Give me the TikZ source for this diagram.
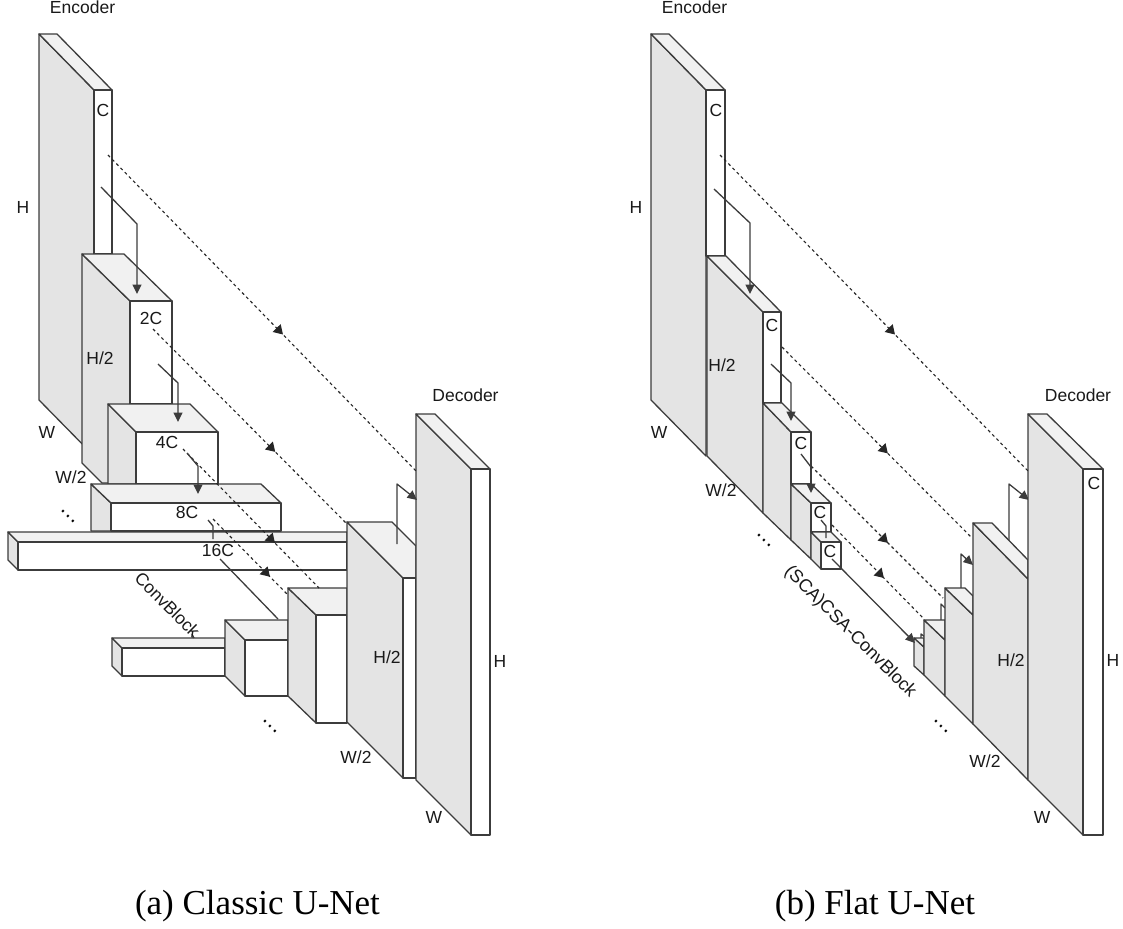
\documentclass[tikz,border=0pt]{standalone}
\usepackage{fontspec}
\setmainfont{Liberation Sans}
\newfontfamily\capfont{Liberation Serif}
\usetikzlibrary{arrows.meta,decorations.markings}
\definecolor{edgec}{HTML}{3C3C3C}
\definecolor{sidec}{HTML}{E4E4E4}
\definecolor{topc}{HTML}{F1F1F1}
\tikzset{
  sideface/.style={draw=edgec,fill=sidec,line width=1.3pt,line join=round},
  topface/.style={draw=edgec,fill=topc,line width=1.3pt,line join=round},
  frontface/.style={draw=edgec,fill=white,line width=1.3pt,line join=round},
  lbl/.style={font=\fontsize{17.5}{20}\selectfont,inner sep=0pt,text=black!90},
  captxt/.style={font=\capfont\fontsize{35}{40}\selectfont,inner sep=0pt,text=black},
  ellip/.style={font=\fontsize{22}{24}\selectfont,inner sep=0pt,rotate=-45},
  conn/.style={draw=edgec,line width=1.3pt,line join=round},
  connarrow/.style={conn,-{Triangle[length=9.5pt,width=9pt]}},
  skipline/.style={draw=black!85,line width=1.1pt,dash pattern=on 3pt off 3pt},
  midtip/.style={postaction={decorate,decoration={markings,mark=at position #1 with {\arrow{Triangle[length=9pt,width=11pt]}}}}}
}
\begin{document}
\begin{tikzpicture}[x=1pt,y=-1pt]
\useasboundingbox (0,0) rectangle (1123,928);
%% ---------- (a) Classic U-Net
% encoder
\draw[sideface] (39,34)--(94,90)--(94,456)--(39,400)--cycle;
\draw[topface] (39,34)--(57,34)--(112,90)--(94,90)--cycle;
\draw[frontface] (94,90) rectangle (112,254);
\draw[sideface] (82,254)--(130,301)--(130,483)--(102,483)--(82,463)--cycle;
\draw[topface] (82,254)--(124,254)--(172,301)--(130,301)--cycle;
\draw[frontface] (130,301) rectangle (172,404);
\draw[sideface] (108,404)--(136,432)--(136,484)--(108,484)--cycle;
\draw[topface] (108,404)--(190,404)--(218,432)--(136,432)--cycle;
\draw[frontface] (136,432) rectangle (218,484);
\draw[sideface] (91,484)--(111,503)--(111,531)--(91,531)--cycle;
\draw[topface] (91,484)--(261,484)--(281,503)--(111,503)--cycle;
\draw[frontface] (111,503) rectangle (281,531);
% bottleneck
\draw[sideface] (8,532)--(18,542)--(18,570)--(8,560)--cycle;
\draw[topface] (8,532)--(347,532)--(347,542)--(18,542)--cycle;
\draw[frontface] (18,542) rectangle (347,570);
% decoder
\draw[sideface] (112,638)--(122,648)--(122,676)--(112,666)--cycle;
\draw[topface] (112,638)--(225,638)--(225,648)--(122,648)--cycle;
\draw[frontface] (122,648) rectangle (225,676);
\draw[sideface] (225,620)--(245,640)--(245,696)--(225,676)--cycle;
\draw[topface] (225,620)--(288,620)--(288,640)--(245,640)--cycle;
\draw[frontface] (245,640) rectangle (288,696);
\draw[sideface] (288,588)--(316,615)--(316,723)--(288,696)--cycle;
\draw[topface] (288,588)--(347,588)--(347,615)--(316,615)--cycle;
\draw[frontface] (316,615) rectangle (347,723);
\draw[sideface] (347,522)--(403,578)--(403,778)--(347,722)--cycle;
\draw[topface] (347,522)--(392,522)--(416,546)--(416,578)--(403,578)--cycle;
\draw[frontface] (403,578) rectangle (416,778);
\draw[sideface] (416,414)--(471,469)--(471,835)--(416,780)--cycle;
\draw[topface] (416,414)--(435,414)--(490,469)--(471,469)--cycle;
\draw[frontface] (471,469) rectangle (490,835);
% connectors (a)
\coordinate (as1) at (108,155); \coordinate (ae1) at (416,471);
\coordinate (as2) at (153,329); \coordinate (ae2) at (347,524);
\coordinate (as3) at (183,449); \coordinate (ae3) at (319,588);
\coordinate (as4) at (213,519); \coordinate (ae4) at (287,594);
\draw[skipline,midtip=0.568] (as1)--(ae1);
\draw[skipline,midtip=0.63] (as2)--(ae2);
\draw[skipline,midtip=0.676] (as3)--(ae3);
\draw[skipline,midtip=0.77] (as4)--(ae4);
\coordinate (ad1) at (101,187); \coordinate (ad1b) at (137,224); \coordinate (ad1e) at (137,294);
\coordinate (ad2) at (158,364); \coordinate (ad2b) at (178,383); \coordinate (ad2e) at (178,422);
\coordinate (ad3) at (187,453); \coordinate (ad3b) at (198,466); \coordinate (ad3e) at (198,494);
\coordinate (ad4) at (208,520); \coordinate (ad4b) at (213,526); \coordinate (ad4e) at (213,539);
\coordinate (ad5) at (220,559); \coordinate (ad5e) at (278,619);
\coordinate (ad6) at (192,634); \coordinate (ad6e) at (194,638);
\coordinate (au1) at (397,544); \coordinate (au1b) at (397,484); \coordinate (au1e) at (417,500);
\draw[connarrow] (ad1)--(ad1b)--(ad1e);
\draw[connarrow] (ad2)--(ad2b)--(ad2e);
\draw[connarrow] (ad3)--(ad3b)--(ad3e);
\draw[conn] (ad4)--(ad4b)--(ad4e);
\draw[conn] (ad5)--(ad5e);
\draw[conn] (ad6)--(ad6e);
\draw[connarrow] (au1)--(au1b)--(au1e);
% labels (a)
\node[lbl] (aenc) at (82.5,7.5) {Encoder};
\node[lbl] (ac1) at (103,110) {C};
\node[lbl] (ah) at (23,207) {H};
\node[lbl] (aw) at (47,432) {W};
\node[lbl] (ah2) at (100,358) {H/2};
\node[lbl] (aw2) at (71,477) {W/2};
\node[lbl] (a2c) at (151,318) {2C};
\node[lbl] (a4c) at (167,442) {4C};
\node[lbl] (a8c) at (187,512) {8C};
\node[lbl] (a16c) at (218,550) {16C};
\node[lbl,rotate=-45] (acb) at (167.5,604.5) {ConvBlock};
\node[lbl] (adec) at (465.5,395) {Decoder};
\node[lbl] (adh2) at (387,657) {H/2};
\node[lbl] (adh) at (500,661) {H};
\node[lbl] (adw2) at (356,757) {W/2};
\node[lbl] (adw) at (434,817) {W};
\node[ellip] (adots1) at (68,516) {…};
\node[ellip] (adots2) at (270,726) {…};
\node[captxt] (acap) at (257.5,906) {(a) Classic U-Net};
%% ---------- (b) Flat U-Net
\draw[sideface] (651,34)--(706,90)--(706,456)--(651,400)--cycle;
\draw[topface] (651,34)--(669,34)--(725,90)--(706,90)--cycle;
\draw[frontface] (706,90) rectangle (725,256);
\draw[sideface] (707,256)--(763,312)--(763,513)--(707,456)--cycle;
\draw[topface] (707,256)--(726,256)--(781,312)--(763,312)--cycle;
\draw[frontface] (763,312) rectangle (781,403);
\draw[sideface] (763,403)--(791,432)--(791,540)--(763,513)--cycle;
\draw[topface] (763,403)--(782,403)--(811,432)--(791,432)--cycle;
\draw[frontface] (791,432) rectangle (811,484);
\draw[sideface] (791,484)--(811,503)--(811,559)--(791,540)--cycle;
\draw[topface] (791,484)--(811,484)--(831,503)--(811,503)--cycle;
\draw[frontface] (811,503) rectangle (831,532);
\draw[sideface] (811,532)--(821,542)--(821,569)--(811,559)--cycle;
\draw[topface] (811,532)--(831,532)--(841,542)--(821,542)--cycle;
\draw[frontface] (821,542) rectangle (841,569);
% decoder stubs
\coordinate (bu0) at (921,638); \coordinate (bu0b) at (921,634); \coordinate (bu0e) at (925,637);
\coordinate (bu1) at (941,620); \coordinate (bu1b) at (941,604); \coordinate (bu1e) at (945,608);
\coordinate (bu2) at (961,588); \coordinate (bu2b) at (961,554); \coordinate (bu2e) at (973,565);
\coordinate (bu3) at (1009,542); \coordinate (bu3b) at (1009,484); \coordinate (bu3e) at (1029,500);
\draw[conn] (bu0)--(bu0b)--(bu0e);
\draw[conn] (bu1)--(bu1b)--(bu1e);
\draw[connarrow] (bu2)--(bu2b)--(bu2e);
\draw[connarrow] (bu3)--(bu3b)--(bu3e);
\draw[sideface] (914,638)--(924,647)--(924,675)--(914,666)--cycle;
\draw[topface] (914,638)--(924,638)--(924,647)--cycle;
\draw[sideface] (924,620)--(945,640)--(945,696)--(924,675)--cycle;
\draw[topface] (924,620)--(945,620)--(945,640)--cycle;
\draw[sideface] (945,588)--(973,615)--(973,724)--(945,696)--cycle;
\draw[topface] (945,588)--(965,588)--(973,596)--(973,615)--cycle;
\draw[sideface] (973,523)--(1028,579)--(1028,780)--(973,724)--cycle;
\draw[topface] (973,523)--(992,523)--(1028,560)--(1028,579)--cycle;
\draw[sideface] (1028,414)--(1083,469)--(1083,835)--(1028,780)--cycle;
\draw[topface] (1028,414)--(1047,414)--(1103,469)--(1083,469)--cycle;
\draw[frontface] (1083,469) rectangle (1103,835);
% connectors (b)
\coordinate (bs1) at (720,155); \coordinate (be1) at (1028,471);
\coordinate (bs2) at (782,347); \coordinate (be2) at (971,537);
\coordinate (bs3) at (811,466); \coordinate (be3) at (943,598);
\coordinate (bs4) at (832,525); \coordinate (be4) at (923,618);
\draw[skipline,midtip=0.568] (bs1)--(be1);
\draw[skipline,midtip=0.56] (bs2)--(be2);
\draw[skipline,midtip=0.583] (bs3)--(be3);
\draw[skipline,midtip=0.57] (bs4)--(be4);
\coordinate (bd1) at (714,189); \coordinate (bd1b) at (750,223); \coordinate (bd1e) at (750,294);
\coordinate (bd2) at (771,364); \coordinate (bd2b) at (791,383); \coordinate (bd2e) at (791,421);
\coordinate (bd3) at (801,454); \coordinate (bd3b) at (811,467); \coordinate (bd3e) at (811,493);
\coordinate (bd4) at (821,520); \coordinate (bd4b) at (826,526); \coordinate (bd4e) at (826,538);
\coordinate (bd5) at (832,559); \coordinate (bd5e) at (915,643);
\draw[connarrow] (bd1)--(bd1b)--(bd1e);
\draw[connarrow] (bd2)--(bd2b)--(bd2e);
\draw[connarrow] (bd3)--(bd3b)--(bd3e);
\draw[conn] (bd4)--(bd4b)--(bd4e);
\draw[connarrow] (bd5)--(bd5e);
% labels (b)
\node[lbl] (benc) at (694.5,7.5) {Encoder};
\node[lbl] (bc1) at (716,110) {C};
\node[lbl] (bh) at (636,207) {H};
\node[lbl] (bw) at (659,432) {W};
\node[lbl] (bh2) at (722,365) {H/2};
\node[lbl] (bw2) at (721,490) {W/2};
\node[lbl] (bc2) at (772,325) {C};
\node[lbl] (bc3) at (801,443) {C};
\node[lbl] (bc4) at (820,512) {C};
\node[lbl] (bc5) at (830,551) {C};
\node[lbl,rotate=-45,font=\fontsize{18}{20}\selectfont] (bcb) at (850,632) {(SCA)CSA-ConvBlock};
\node[lbl] (bdec) at (1078,395) {Decoder};
\node[lbl] (bdc) at (1094,483) {C};
\node[lbl] (bdh2) at (1011,660) {H/2};
\node[lbl] (bdh) at (1113,660) {H};
\node[lbl] (bdw2) at (985,761) {W/2};
\node[lbl] (bdw) at (1042,817) {W};
\node[ellip] (bdots1) at (764,540) {…};
\node[ellip] (bdots2) at (941,726) {…};
\node[captxt] (bcap) at (875,906) {(b) Flat U-Net};
\end{tikzpicture}
\end{document}
